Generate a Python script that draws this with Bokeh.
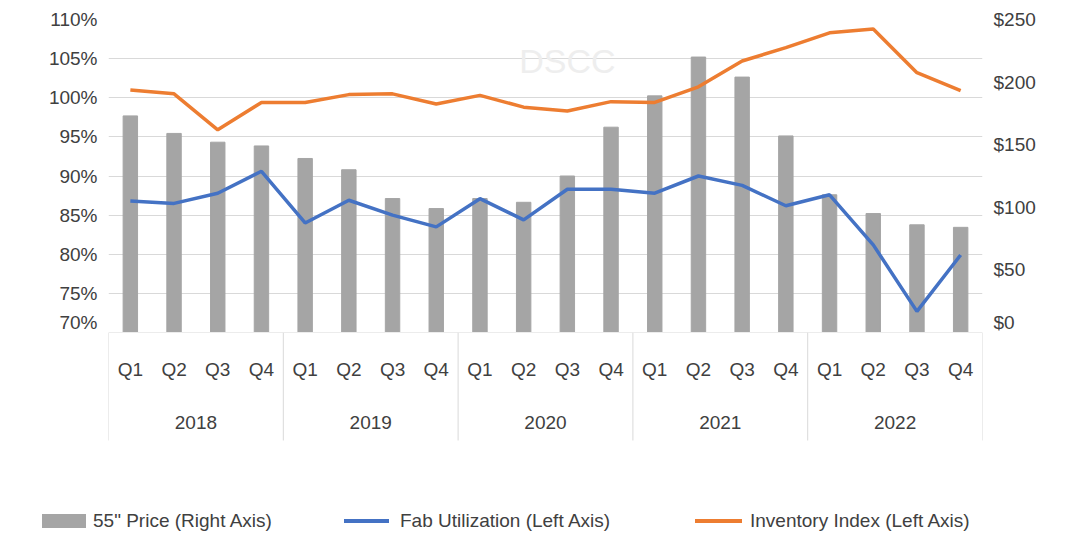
from bokeh.core.properties import value
from bokeh.embed import file_html
from bokeh.layouts import column
from bokeh.models import (ColumnDataSource, Range1d, LinearAxis, SingleIntervalTicker,
                          NumeralTickFormatter, Div)
from bokeh.plotting import figure
from bokeh.resources import INLINE

years = ["2018", "2019", "2020", "2021", "2022"]
quarters = ["Q1", "Q2", "Q3", "Q4"]
price = [173, 159, 152, 149, 139, 130, 107, 99, 107, 104, 125, 164,
         189, 220, 204, 157, 110, 95, 86, 84]
fab_util = [86.8, 86.5, 87.8, 90.6, 84.0, 86.9, 85.0, 83.5, 87.1, 84.4, 88.3, 88.3,
            87.8, 90.0, 88.8, 86.2, 87.6, 81.2, 72.7, 79.9]
inventory = [101.0, 100.5, 95.9, 99.4, 99.4, 100.4, 100.5, 99.2, 100.3, 98.8, 98.3, 99.5,
             99.4, 101.4, 104.7, 106.4, 108.3, 108.8, 103.2, 100.9]
legend_labels = ['55" Price (Right Axis)', "Fab Utilization (Left Axis)", "Inventory Index (Left Axis)"]

FONT = "Liberation Sans"
TXT = "#404040"
GREY, BLUE, ORANGE = "#a5a5a5", "#4472c4", "#ed7d31"
n = len(price)
xs = list(range(n))
src = ColumnDataSource(data=dict(x=xs, price=price, fab=[v / 100 for v in fab_util],
                                 inv=[v / 100 for v in inventory]))

W = 1072
LEFT, RIGHT = 108, 90
x_range = Range1d(-0.5, n - 0.5)
p = figure(width=W, height=332, x_range=x_range, y_range=Range1d(0.70, 1.10),
           output_backend="svg", toolbar_location=None,
           min_border_left=LEFT, min_border_right=RIGHT, min_border_top=19, min_border_bottom=0)
p.outline_line_color = None
p.xaxis.visible = False
p.xgrid.grid_line_color = None
p.ygrid.grid_line_color = "#d9d9d9"
p.ygrid.ticker = SingleIntervalTicker(interval=0.05)
p.yaxis.ticker = SingleIntervalTicker(interval=0.05)
p.yaxis.formatter = NumeralTickFormatter(format="0%")
p.extra_y_ranges = {"price": Range1d(0, 250)}
right = LinearAxis(y_range_name="price", ticker=SingleIntervalTicker(interval=50),
                   formatter=NumeralTickFormatter(format="$0"))
p.add_layout(right, "right")
for ax in (p.yaxis[0], right):
    ax.axis_line_color = None
    ax.major_tick_line_color = None
    ax.minor_tick_line_color = None
    ax.major_label_text_font = FONT
    ax.major_label_text_font_size = "19px"
    ax.major_label_text_color = TXT

p.vbar(x="x", top="price", width=0.33, color=GREY, source=src, y_range_name="price")
p.line("x", "fab", source=src, color=BLUE, line_width=3.5)
p.line("x", "inv", source=src, color=ORANGE, line_width=3.5)
p.text(x=[10.0], y=[1.047], text=["DSCC"], text_font=value(FONT), text_font_size="34px",
       text_color="#eeeeee", text_align="center", text_baseline="middle")

# bottom: two-level category labels with group separators
H2 = 120
b = figure(width=W, height=H2, x_range=x_range, y_range=Range1d(H2, 0),
           output_backend="svg", toolbar_location=None,
           min_border_left=LEFT, min_border_right=RIGHT, min_border_top=0, min_border_bottom=0)
b.outline_line_color = None
b.axis.visible = False
b.grid.visible = False
b.text(x=xs, y=[37] * n, text=[quarters[i % 4] for i in xs], text_font=value(FONT),
       text_font_size="19px", text_color=TXT, text_align="center", text_baseline="middle")
b.text(x=[i * 4 + 1.5 for i in range(len(years))], y=[90] * len(years), text=years,
       text_font=value(FONT), text_font_size="19px", text_color=TXT,
       text_align="center", text_baseline="middle")
seps = [i * 4 - 0.5 for i in range(len(years) + 1)]
b.segment(x0=seps, y0=[0] * len(seps), x1=seps, y1=[108] * len(seps), color="#d9d9d9", line_width=1)
b.segment(x0=[-0.5], y0=[0], x1=[n - 0.5], y1=[0], color="#d9d9d9", line_width=1)

# legend as an HTML strip below the chart
swatches = [(42, 44, 14, GREY), (344, 45, 4, BLUE), (695, 47, 4, ORANGE)]
label_x = [93, 400, 750]
parts = []
for (sx, sw, sh, c), lx, txt in zip(swatches, label_x, legend_labels):
    parts.append(f'<div style="position:absolute;left:{sx}px;top:{69 - sh / 2}px;width:{sw}px;'
                 f'height:{sh}px;background:{c}"></div>')
    parts.append(f'<div style="position:absolute;left:{lx}px;top:57px;font:19px \'{FONT}\';'
                 f'color:{TXT};white-space:nowrap;line-height:24px">{txt.replace(chr(34), "&quot;")}</div>')
legend = Div(text='<div style="position:relative;width:1072px;height:90px">' + "".join(parts) + "</div>",
             width=W, height=90, margin=0)

layout = column(p, b, legend, spacing=0)
open("out.html", "w").write(file_html(layout, INLINE))
